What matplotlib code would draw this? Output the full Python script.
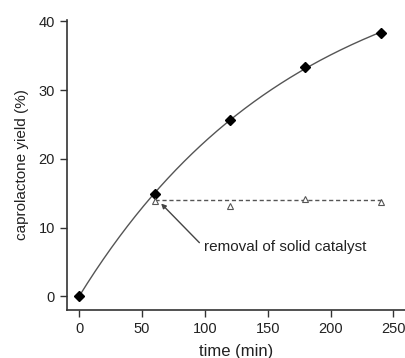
import numpy as np
import matplotlib
matplotlib.use("Agg")
import matplotlib.pyplot as plt

plt.rcParams['font.family'] = ['Liberation Sans', 'DejaVu Sans']

# reaction with catalyst present
time_cat = [0, 60, 120, 180, 240]
yield_cat = [0.0, 14.9, 25.6, 33.4, 38.3]

# after hot filtration of the solid catalyst
time_filt = [60, 120, 180, 240]
yield_filt = [13.9, 13.2, 14.1, 13.65]
plateau = 14.05

# first-order fit y = A (1 - exp(-k t)) via grid search over k
t = np.array(time_cat, float)
y = np.array(yield_cat, float)
best = None
for k in np.linspace(1e-4, 0.05, 5000):
    g = 1 - np.exp(-k * t)
    A = (g @ y) / (g @ g)
    err = np.sum((A * g - y) ** 2)
    if best is None or err < best[0]:
        best = (err, A, k)
_, A_fit, k_fit = best
t_fit = np.linspace(0, 240, 300)
y_fit = A_fit * (1 - np.exp(-k_fit * t_fit))

fig = plt.figure(figsize=(4.06, 3.58), dpi=100)
ax = fig.add_axes([0.164, 0.134, 0.836, 0.81])

ax.plot(t_fit, y_fit, color='#555555', lw=1.0, zorder=2)
ax.plot(time_cat, yield_cat, linestyle='none', marker='D', ms=5,
        color='black', zorder=3)
ax.plot([time_filt[0], time_filt[-1]], [plateau, plateau], color='#555555',
        lw=1.0, ls=(0, (3, 2)), zorder=2)
ax.plot(time_filt, yield_filt, linestyle='none', marker='^', ms=5,
        markerfacecolor='white', markeredgecolor='#555555', mew=0.8, zorder=3)

ax.annotate('removal of solid catalyst', xy=(65.2, 13.5), xytext=(99.4, 7.1),
            fontsize=11, color='#222222', va='center', ha='left',
            arrowprops=dict(arrowstyle='-|>', color='#444444', lw=1.0,
                            mutation_scale=7, shrinkA=2, shrinkB=0,
                            relpos=(0, 0.5)))

ax.set_xlim(-10, 260)
ax.set_ylim(-2, 40.2)
ax.set_xticks([0, 50, 100, 150, 200, 250])
ax.set_yticks([0, 10, 20, 30, 40])
for s in ['top', 'right']:
    ax.spines[s].set_visible(False)
for s in ['left', 'bottom']:
    ax.spines[s].set_linewidth(1.2)
    ax.spines[s].set_color('#333333')
ax.tick_params(direction='out', length=5, width=1.0, colors='#333333',
               labelsize=10.5, labelcolor='#222222')
ax.set_xlabel('time (min)', fontsize=12, color='#222222', labelpad=6)
ax.set_ylabel('caprolactone yield (%)', fontsize=11, color='#222222', labelpad=7)

fig.savefig('out.png', dpi=100)
